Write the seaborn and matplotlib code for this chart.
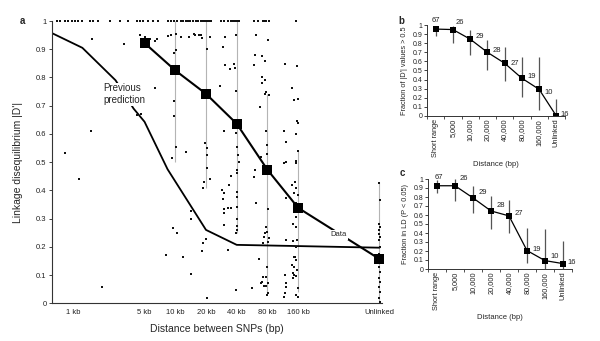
import numpy as np
import pandas as pd
import matplotlib
matplotlib.use("Agg")
import matplotlib.pyplot as plt
import seaborn as sns
from matplotlib.ticker import FuncFormatter, NullLocator, FixedLocator

sns.set_theme(style="ticks")
plt.rcParams["font.family"] = ["Liberation Sans", "DejaVu Sans"]

# ---------------- Panel a data ----------------
# SNP pairs with |D'| = 1 (distance in kb)
full_ld_kb = [0.70, 0.745, 0.83, 0.89, 0.98, 1.05, 1.12, 1.23, 1.47, 1.57, 1.76, 2.31, 2.9, 3.47,
              4.26, 4.56, 4.88, 5.35, 6.12, 6.7, 8.4, 9.0, 9.64, 10.5, 11.3, 11.8, 12.6, 13.2, 14.1,
              14.8, 15.9, 16.6, 17.8, 18.6, 19.0, 19.9, 20.8, 21.3, 22.3, 27.9, 29.9, 32.7, 35.0,
              36.7, 37.5, 39.2, 41.0, 42.0, 59, 64.6, 72.4, 74, 77.3, 82.6, 152]
full_ld_dp = [1.0] * len(full_ld_kb)

# other SNP pairs (distance in kb, |D'|)
near_kb = [1.53, 3.17, 4.56, 5.1, 6.3, 6.6, 8.4, 9.0, 10.1, 11.3, 13.5, 15.1, 16.9, 5.7, 13.6, 15.5,
           17.8, 18.4, 21.9, 10.2, 9.8, 20.6, 6.3, 27.5, 9.8, 4.2, 4.6, 9.8, 1.49, 10.2, 12.6, 9.2,
           0.83, 19.4, 20.6, 20.6, 20.6, 21.8, 19.2, 18.9, 1.13, 1.91, 14.2, 14.2, 9.6, 10.3, 8.2,
           12.0, 14.2, 19.9, 18.9, 18.4, 20.3]
near_dp = [0.937, 0.918, 0.951, 0.942, 0.928, 0.937, 0.948, 0.952, 0.954, 0.943, 0.943, 0.954,
           0.952, 0.937, 0.945, 0.950, 0.950, 0.940, 0.943, 0.898, 0.887, 0.902, 0.762, 0.768,
           0.717, 0.668, 0.670, 0.662, 0.611, 0.552, 0.535, 0.516, 0.532, 0.567, 0.550, 0.526,
           0.479, 0.441, 0.431, 0.408, 0.441, 0.057, 0.327, 0.299, 0.266, 0.250, 0.171, 0.165,
           0.104, 0.228, 0.213, 0.187, 0.020]

kb40_kb = [30.8, 39.8, 29.5, 30.8, 34.4, 37.8, 38.5, 39.8, 30.1, 39.8, 40.5, 41.0, 42.0, 40.0,
           40.3, 35.0, 29.0, 30.0, 29.5, 33.7, 40.3, 40.0, 30.0, 32.5, 35.0, 30.0, 40.3, 30.0,
           40.3, 40.3, 40.3, 39.0, 33.0, 39.0]
kb40_dp = [0.942, 0.949, 0.908, 0.845, 0.830, 0.848, 0.835, 0.753, 0.609, 0.603, 0.555, 0.526,
           0.502, 0.473, 0.461, 0.451, 0.402, 0.392, 0.370, 0.420, 0.396, 0.378, 0.333, 0.337,
           0.337, 0.319, 0.340, 0.278, 0.300, 0.274, 0.260, 0.250, 0.189, 0.047]

kb80_kb = [62, 80.4, 60.6, 70.5, 76.2, 59.4, 71, 76, 70, 77.5, 82, 75.6, 67.7, 77.5, 79.5, 80,
           69, 61, 59, 62, 80.4, 77, 74, 80.4, 73, 82, 76, 80, 66, 79.5, 72, 77, 71, 74, 77,
           80.4, 79.5, 57, 69, 80.4]
kb80_dp = [0.951, 0.934, 0.881, 0.875, 0.857, 0.845, 0.800, 0.790, 0.780, 0.748, 0.739, 0.741,
           0.694, 0.611, 0.561, 0.528, 0.520, 0.473, 0.449, 0.357, 0.334, 0.272, 0.236, 0.218,
           0.215, 0.230, 0.248, 0.254, 0.156, 0.128, 0.092, 0.092, 0.077, 0.061, 0.061, 0.038,
           0.029, 0.053, 0.071, 0.071]

kb160_kb = [119, 155, 140, 144, 161, 155, 161, 117, 152, 122, 158, 152, 122, 117, 152, 150, 140,
            152, 147, 158, 122, 152, 142, 152, 152, 122, 142, 156, 152, 144, 150, 152, 140, 147,
            156, 142, 147, 142, 152, 119, 122, 122, 119, 117, 158, 152, 158]
kb160_dp = [0.848, 0.839, 0.762, 0.721, 0.724, 0.646, 0.640, 0.609, 0.599, 0.570, 0.538, 0.505,
            0.502, 0.496, 0.496, 0.428, 0.420, 0.408, 0.390, 0.384, 0.372, 0.357, 0.281, 0.305,
            0.272, 0.224, 0.222, 0.224, 0.199, 0.165, 0.165, 0.154, 0.136, 0.130, 0.118, 0.106,
            0.100, 0.089, 0.097, 0.100, 0.071, 0.059, 0.035, 0.021, 0.053, 0.029, 0.021]

unlinked_kb = [990, 1005, 995, 1010, 985, 1000, 1008, 992, 1003, 996, 1012, 988, 1000, 1006,
               994, 1002, 990, 1010, 998, 1004]
unlinked_dp = [0.426, 0.366, 0.280, 0.272, 0.260, 0.246, 0.234, 0.224, 0.200, 0.175, 0.152,
               0.142, 0.130, 0.112, 0.089, 0.077, 0.059, 0.041, 0.018, 0.006]

mean_kb = [5, 10, 20, 40, 80, 160, 1000]
mean_dp = [0.922, 0.825, 0.742, 0.636, 0.473, 0.338, 0.157]

range_kb = [10, 20, 40, 80, 160, 1000]
range_hi = [1.0, 1.0, 1.0, 0.74, 0.54, 0.43]
range_lo = [0.50, 0.41, 0.25, 0.04, 0.04, 0.0]

pred_kb = [0.62, 1.23, 2.6, 3.9, 5.0, 8.4, 20, 40, 1000]
pred_dp = [0.957, 0.905, 0.79, 0.69, 0.643, 0.475, 0.26, 0.207, 0.197]

a_tick_kb = [1, 5, 10, 20, 40, 80, 160, 1000]
a_tick_labels = ["1 kb", "5 kb", "10 kb", "20 kb", "40 kb", "80 kb", "160 kb", "Unlinked"]

# ---------------- Panels b / c data ----------------
cats = ["Short range", "5,000", "10,000", "20,000", "40,000", "80,000", "160,000", "Unlinked"]
n_pairs = [67, 26, 29, 28, 27, 19, 10, 16]
b_frac = [0.955, 0.95, 0.845, 0.70, 0.58, 0.415, 0.293, 0.0]
b_lo = [0.88, 0.80, 0.67, 0.51, 0.38, 0.21, 0.07, 0.0]
b_hi = [0.99, 0.99, 0.945, 0.84, 0.76, 0.65, 0.645, 0.19]
c_frac = [0.925, 0.925, 0.79, 0.645, 0.59, 0.205, 0.093, 0.06]
c_lo = [0.85, 0.76, 0.62, 0.45, 0.40, 0.07, 0.0, 0.0]
c_hi = [0.99, 1.0, 0.92, 0.81, 0.77, 0.46, 0.44, 0.31]

fmt = FuncFormatter(lambda v, p: f"{v:g}")
spine_col = "#333333"

fig = plt.figure(figsize=(6, 3.41), dpi=100)

# ================= Panel a =================
axa = fig.add_axes([52 / 600, 1 - 303.3 / 341, 330 / 600, 282.3 / 341])
axa.set_xscale("log")

pts = pd.DataFrame({
    "kb": full_ld_kb + near_kb + kb40_kb + kb80_kb + kb160_kb + unlinked_kb,
    "dp": full_ld_dp + near_dp + kb40_dp + kb80_dp + kb160_dp + unlinked_dp,
})
axa.vlines(range_kb, range_lo, range_hi, color="#b4b4b4", lw=0.8, zorder=1)
sns.scatterplot(data=pts, x="kb", y="dp", ax=axa, s=1.6, color="#111111", marker="s",
                linewidth=0, clip_on=False, zorder=3)
sns.lineplot(x=pred_kb, y=pred_dp, ax=axa, color="black", lw=1.3, zorder=2)
sns.lineplot(x=mean_kb, y=mean_dp, ax=axa, color="black", lw=1.5, marker="s",
             markersize=6.5, markeredgewidth=0, zorder=4, clip_on=False)

axa.set_xlim(0.62, 1060)
axa.set_ylim(0, 1)
axa.set_xticks(a_tick_kb)
axa.set_xticklabels(a_tick_labels)
axa.xaxis.set_minor_locator(NullLocator())
axa.set_yticks([0, 0.1, 0.2, 0.3, 0.4, 0.5, 0.6, 0.7, 0.8, 0.9, 1.0])
axa.yaxis.set_major_formatter(fmt)
axa.tick_params(axis="x", length=0, pad=4, labelsize=5.5, colors="#222222")
axa.tick_params(axis="y", length=2, width=0.6, pad=2, labelsize=5.5, colors="#222222")
sns.despine(ax=axa)
for s in ["left", "bottom"]:
    axa.spines[s].set_color(spine_col)
    axa.spines[s].set_linewidth(0.8)
axa.set_xlabel("Distance between SNPs (bp)", fontsize=7.5, labelpad=6)
axa.set_ylabel("Linkage disequilibrium |D'|", fontsize=7.5, labelpad=9)

axa.text(1.97, 0.74, "Previous\nprediction", fontsize=7, ha="left", va="center",
         linespacing=1.25, zorder=5,
         bbox=dict(facecolor="white", edgecolor="none", pad=0.5))
axa.text(396, 0.242, "Data", fontsize=5.5, ha="center", va="center", zorder=5,
         bbox=dict(facecolor="white", edgecolor="none", pad=1.0))
fig.text(22 / 600, 1 - 21 / 341, "a", fontsize=7, fontweight="bold", ha="center", va="center")


def panel(ax, frac, lo, hi, ylabel, label_offsets):
    df = pd.DataFrame({"cat": cats, "frac": frac})
    pos = np.arange(len(cats))
    ax.vlines(pos, lo, hi, color="#555555", lw=0.9, zorder=1)
    sns.pointplot(data=df, x="cat", y="frac", order=cats, ax=ax, color="black",
                  errorbar=None, marker="s", markersize=4.5, markeredgewidth=0,
                  linewidth=0.9)
    for i, (f, n) in enumerate(zip(frac, n_pairs)):
        dx, dy, ha = label_offsets[i]
        ax.annotate(str(n), (i, f), xytext=(dx, dy), textcoords="offset points",
                    ha=ha, va="center", fontsize=5.5, color="#222222", annotation_clip=False)
    ax.set_xlim(-0.5, 7.5)
    ax.set_ylim(0, 1)
    ax.set_yticks([0, 0.1, 0.2, 0.3, 0.4, 0.5, 0.6, 0.7, 0.8, 0.9, 1.0])
    ax.yaxis.set_major_formatter(fmt)
    ax.xaxis.set_minor_locator(FixedLocator(np.arange(-0.5, 7.6, 1.0)))
    ax.tick_params(axis="x", which="major", length=0, pad=2, labelsize=5.3,
                   labelrotation=90, colors="#222222")
    ax.tick_params(axis="x", which="minor", length=2, width=0.6, color=spine_col)
    ax.tick_params(axis="y", length=2, width=0.6, pad=1.5, labelsize=5, colors="#222222")
    sns.despine(ax=ax)
    for s in ["left", "bottom"]:
        ax.spines[s].set_color(spine_col)
        ax.spines[s].set_linewidth(0.7)
    ax.set_xlabel("Distance (bp)", fontsize=5.5, labelpad=3)
    ax.set_ylabel(ylabel, fontsize=5.3, labelpad=3)


offs_b = [(0, 6, "center"), (2, 5, "left"), (4, 2, "left"), (4, 1, "left"), (4, 0, "left"),
          (4, 1, "left"), (4, -2, "left"), (3, 1, "left")]
offs_c = [(1, 6, "center"), (3, 5, "left"), (4, 4, "left"), (4, 4, "left"), (4, 2, "left"),
          (4, 1, "left"), (4, 3, "left"), (3, 1, "left")]

axb = fig.add_axes([427 / 600, 1 - 116 / 341, 138 / 600, 91 / 341])
panel(axb, b_frac, b_lo, b_hi, "Fraction of |D'| values > 0.5", offs_b)
fig.text(401 / 600, 1 - 21 / 341, "b", fontsize=7, fontweight="bold", ha="center", va="center")

axc = fig.add_axes([428 / 600, 1 - 269 / 341, 144 / 600, 90 / 341])
panel(axc, c_frac, c_lo, c_hi, "Fraction in LD (P < 0.05)", offs_c)
fig.text(402 / 600, 1 - 173 / 341, "c", fontsize=7, fontweight="bold", ha="center", va="center")

fig.savefig("out.png", dpi=100, facecolor="white")
